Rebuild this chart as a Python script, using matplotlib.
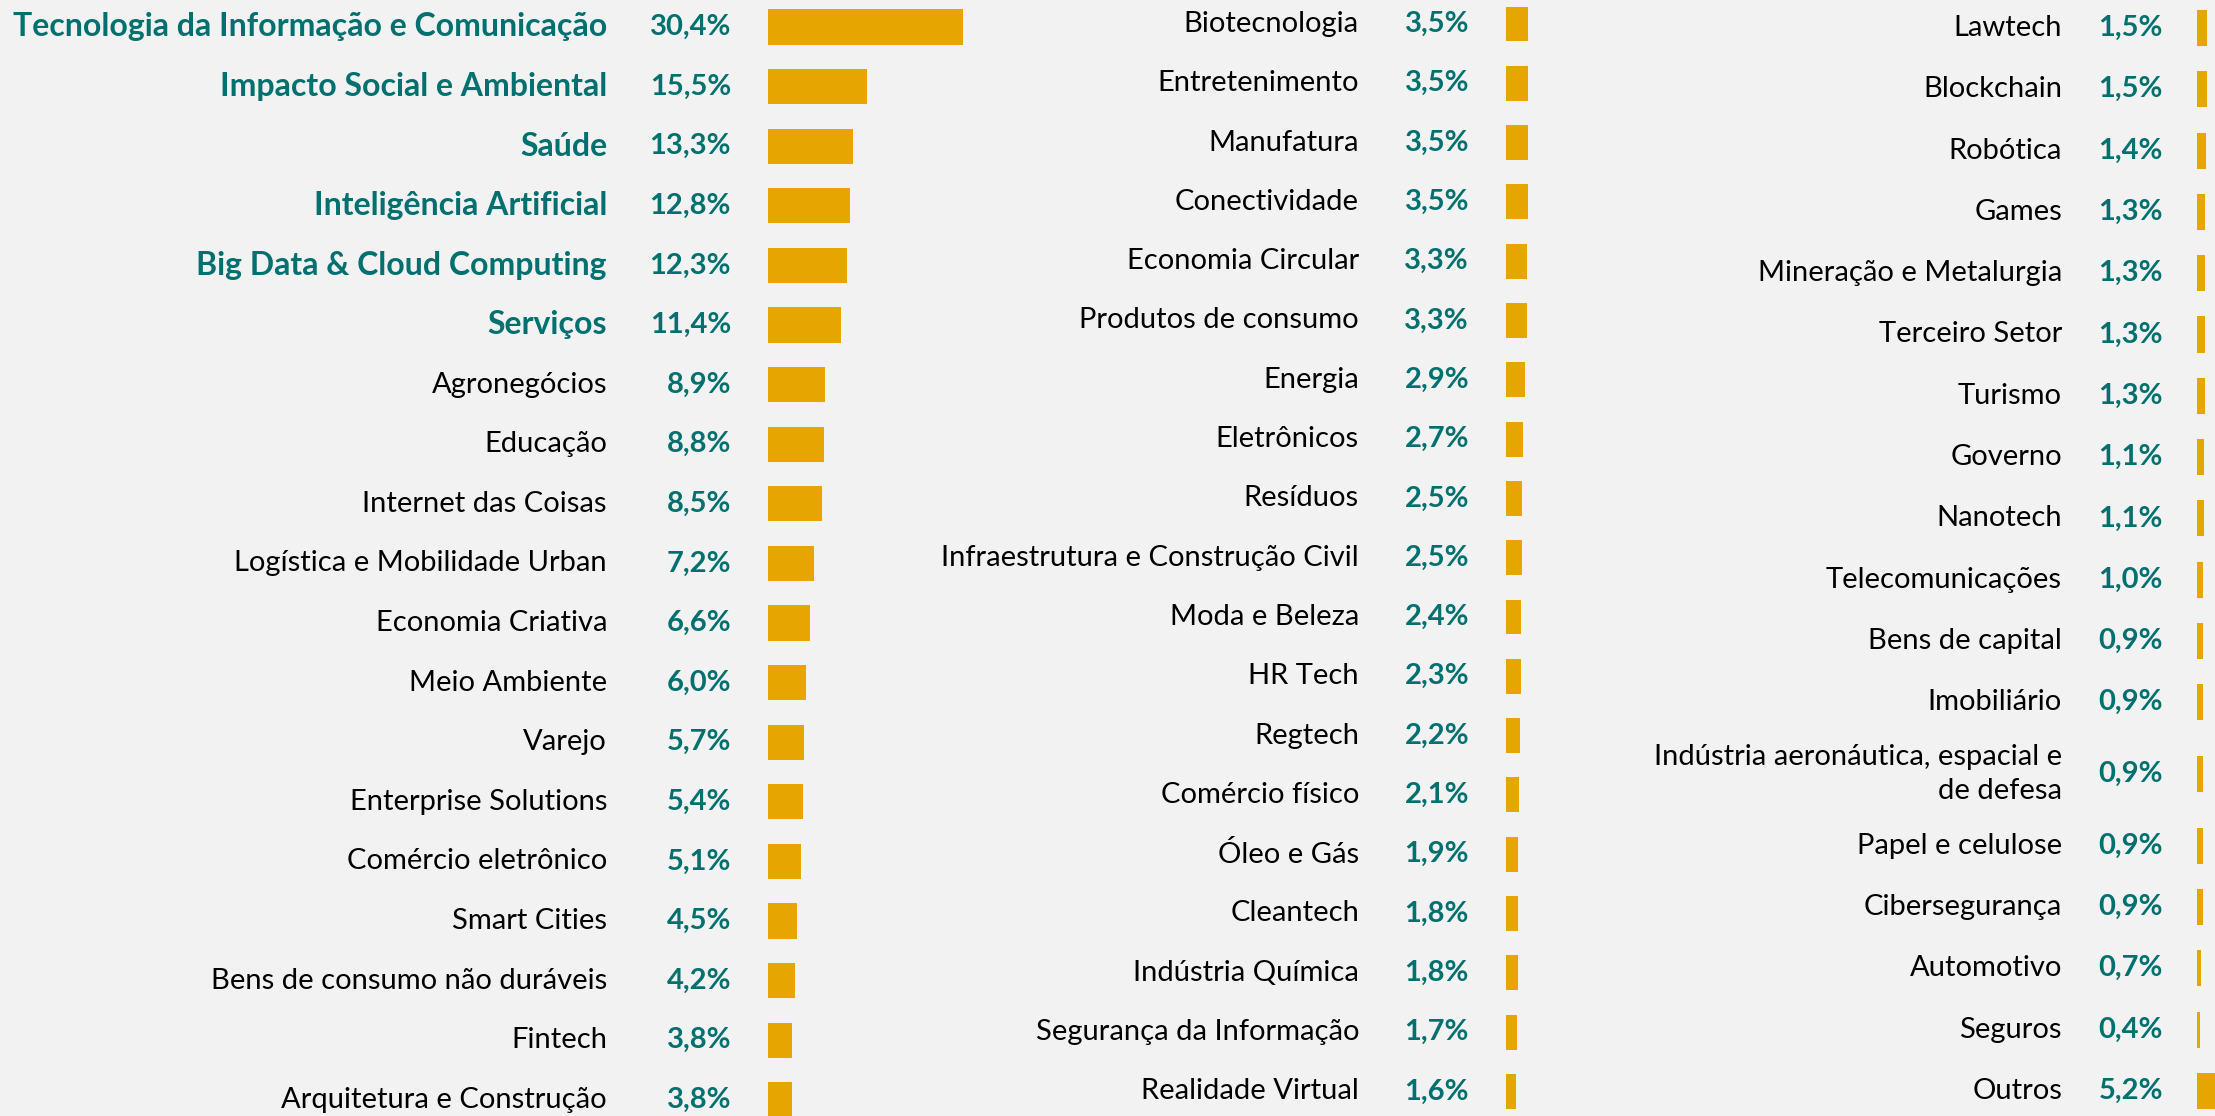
import matplotlib.pyplot as plt
from matplotlib.transforms import blended_transform_factory

plt.rcParams['font.family'] = ['Lato', 'DejaVu Sans']

col1_labels = [
    "Tecnologia da Informação e Comunicação", "Impacto Social e Ambiental", "Saúde",
    "Inteligência Artificial", "Big Data & Cloud Computing", "Serviços", "Agronegócios",
    "Educação", "Internet das Coisas", "Logística e Mobilidade Urban", "Economia Criativa",
    "Meio Ambiente", "Varejo", "Enterprise Solutions", "Comércio eletrônico", "Smart Cities",
    "Bens de consumo não duráveis", "Fintech", "Arquitetura e Construção",
]
col1_values = [30.4, 15.5, 13.3, 12.8, 12.3, 11.4, 8.9, 8.8, 8.5, 7.2, 6.6, 6.0, 5.7, 5.4,
               5.1, 4.5, 4.2, 3.8, 3.8]

col2_labels = [
    "Biotecnologia", "Entretenimento", "Manufatura", "Conectividade", "Economia Circular",
    "Produtos de consumo", "Energia", "Eletrônicos", "Resíduos",
    "Infraestrutura e Construção Civil", "Moda e Beleza", "HR Tech", "Regtech",
    "Comércio físico", "Óleo e Gás", "Cleantech", "Indústria Química",
    "Segurança da Informação", "Realidade Virtual",
]
col2_values = [3.5, 3.5, 3.5, 3.5, 3.3, 3.3, 2.9, 2.7, 2.5, 2.5, 2.4, 2.3, 2.2, 2.1, 1.9,
               1.8, 1.8, 1.7, 1.6]

col3_labels = [
    "Lawtech", "Blockchain", "Robótica", "Games", "Mineração e Metalurgia", "Terceiro Setor",
    "Turismo", "Governo", "Nanotech", "Telecomunicações", "Bens de capital", "Imobiliário",
    "Indústria aeronáutica, espacial e\nde defesa", "Papel e celulose", "Cibersegurança",
    "Automotivo", "Seguros", "Outros",
]
col3_values = [1.5, 1.5, 1.4, 1.3, 1.3, 1.3, 1.3, 1.1, 1.1, 1.0, 0.9, 0.9, 0.9, 0.9, 0.9,
               0.7, 0.4, 5.2]

highlight = 6  # first rows of column 1 in bold teal

BG = "#F2F2F2"
TEAL = "#00716E"
GOLD = "#E6A500"
W, H = 2215, 1116
PX_PER_PCT = 6.4
FS = 21
FS_BOLD = 23

fig = plt.figure(figsize=(W / 100, H / 100), dpi=100)
fig.patch.set_facecolor(BG)

# (bar left px, label right px, value right px, first row center px, row step px)
columns = [
    (col1_labels, col1_values, 768, 607, 731, 27, 59.6),
    (col2_labels, col2_values, 1506, 1359, 1469, 24, 59.3),
    (col3_labels, col3_values, 2197, 2062, 2163, 28, 61.3),
]

for ci, (labels, values, bar_left, lab_right, val_right, y0, step) in enumerate(columns):
    # row positions, two-line labels take a little extra room
    pos = []
    p = 0.0
    for i, lab in enumerate(labels):
        if i > 0:
            p += 1.0
        if "\n" in lab:
            p += 0.17
        pos.append(p)
        if "\n" in lab:
            p += 0.17

    ax_w = 220
    ax = fig.add_axes([bar_left / W, 0, ax_w / W, 1])
    ax.set_facecolor("none")
    ax.set_xlim(0, ax_w / PX_PER_PCT)
    ax.set_ylim((H - y0) / step, -y0 / step)
    ax.barh(pos, values, height=0.59, color=GOLD, edgecolor="none")
    ax.axis("off")

    tr = blended_transform_factory(fig.transFigure, ax.transData)
    for i, (lab, v, y) in enumerate(zip(labels, values, pos)):
        bold = ci == 0 and i < highlight
        ax.text(lab_right / W, y, lab, transform=tr, ha="right", va="center",
                fontsize=FS_BOLD if bold else FS, color=TEAL if bold else "black",
                fontweight="bold" if bold else "normal", linespacing=1.4)
        ax.text(val_right / W, y, f"{v:.1f}%".replace(".", ","), transform=tr,
                ha="right", va="center", fontsize=FS, color=TEAL, fontweight="bold")

fig.savefig("out.png", dpi=100, facecolor=BG)
